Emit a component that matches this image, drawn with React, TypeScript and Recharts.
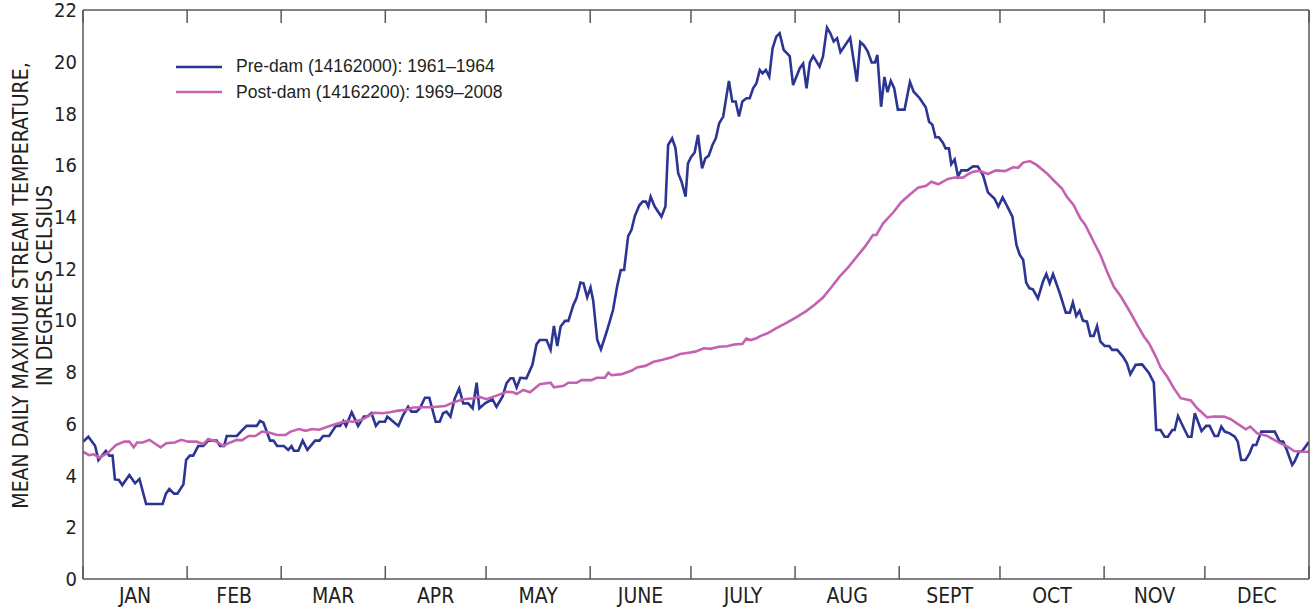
import { LineChart, Line, XAxis, YAxis, Legend, Label } from "recharts"

// day of year (0-365) vs mean daily max stream temperature (deg C)
const preDam: [number, number][] = [
  [0, 5.3], [1.6, 5.5], [3.6, 5.15], [4.6, 4.6], [6.8, 4.95], [7.8, 4.77], [8.8, 4.77], [9.5, 3.85],
  [10.7, 3.83], [11.7, 3.63], [13.8, 4.02], [15.5, 3.7], [16.8, 3.87], [18.8, 2.9], [23.7, 2.9], [24.7, 3.3],
  [25.7, 3.48], [27.1, 3.3], [28.1, 3.3], [29.9, 3.66], [30.7, 4.6], [31.8, 4.77], [32.8, 4.77], [34.3, 5.14],
  [35.8, 5.14], [37.3, 5.35], [39.8, 5.35], [40.8, 5.14], [42, 5.14], [42.8, 5.53], [45.8, 5.53], [47.2, 5.73],
  [48.7, 5.92], [51.7, 5.92], [52.7, 6.11], [53.7, 6.05], [55.7, 5.35], [56.7, 5.35], [57.8, 5.14], [59.8, 5.14],
  [61.1, 4.99], [62.1, 5.14], [62.8, 4.96], [64.1, 4.96], [65.4, 5.35], [66.8, 4.99], [69.1, 5.35], [70.4, 5.35],
  [71.5, 5.53], [73.3, 5.53], [75.3, 5.92], [76.5, 5.92], [77.5, 6.11], [78.3, 5.92], [80, 6.45], [81.9, 5.92],
  [83.6, 6.28], [84.6, 6.28], [85.9, 6.41], [87.2, 5.92], [88.2, 6.08], [89.9, 6.08], [90.6, 6.28], [92.4, 6.08],
  [93.9, 5.92], [95.3, 6.34], [96.8, 6.66], [97.8, 6.47], [99.3, 6.47], [100.3, 6.6], [101.8, 7.01], [103.1, 7.01],
  [105, 6.08], [106.2, 6.08], [107.2, 6.41], [108.2, 6.47], [109.4, 6.28], [110.7, 6.99], [112, 7.37], [113.2, 6.79],
  [114.7, 6.79], [116, 6.6], [117.2, 7.59], [118, 6.6], [119.8, 6.8], [121.9, 6.95], [123.1, 6.66], [124.9, 7.05],
  [126.1, 7.57], [127.3, 7.76], [128.1, 7.76], [129.1, 7.4], [130.2, 7.78], [132, 7.76], [133.8, 8.28], [135, 9.07],
  [136, 9.24], [138, 9.24], [139.2, 8.86], [140.2, 9.78], [141.2, 9.01], [142.2, 9.76], [143.5, 9.98], [144.5, 9.98],
  [146, 10.6], [146.9, 10.85], [148.1, 11.46], [149, 11.43], [150.1, 10.89], [151.1, 11.27], [151.9, 10.76], [153.1, 9.24],
  [154.2, 8.88], [155.9, 9.56], [157.8, 10.4], [159, 11.3], [160.1, 11.95], [161.1, 11.95], [162.3, 13.26], [163.3, 13.5],
  [164.3, 14.04], [165.6, 14.44], [166.6, 14.59], [167.6, 14.59], [168.3, 14.4], [169, 14.78], [170.2, 14.4], [172.2, 14.01],
  [173.4, 14.4], [174.2, 16.78], [175.4, 17.04], [176.4, 16.65], [177.2, 15.69], [178.2, 15.36], [179.4, 14.78], [180.1, 16.07],
  [181.1, 16.33], [182.1, 16.49], [183.1, 17.17], [184.3, 15.88], [185.3, 16.27], [186.3, 16.37], [187.4, 16.78], [188.4, 17.04],
  [189.4, 17.62], [190.6, 17.88], [192.3, 19.26], [193.3, 18.46], [194.3, 18.46], [195.3, 17.88], [196.3, 18.46], [197.5, 18.59],
  [198.5, 18.59], [199.5, 18.97], [200.5, 19.17], [201.5, 19.68], [202.3, 19.55], [203.3, 19.68], [204.3, 19.42], [205.3, 20.52],
  [206.4, 20.97], [207.4, 21.1], [208.6, 20.46], [210.4, 20.22], [211.4, 19.1], [213.4, 19.75], [214.4, 19.93], [215.4, 18.97],
  [216.4, 19.97], [217.4, 20.22], [219.3, 19.81], [220.3, 20.2], [221.5, 21.32], [222.5, 21.1], [223.5, 20.78], [224.5, 20.91],
  [225.5, 20.37], [228.4, 20.93], [230.4, 19.23], [231.4, 20.76], [232.5, 20.63], [233.6, 20.4], [234.8, 19.97], [235.8, 19.97],
  [236.5, 20.26], [237.6, 18.26], [238.6, 19.41], [239.5, 18.82], [240.5, 19.26], [241.5, 18.98], [242.6, 18.15], [244.6, 18.15],
  [246.2, 19.22], [247.3, 18.84], [249.1, 18.59], [250.9, 18.24], [251.9, 17.68], [252.9, 17.56], [253.8, 17.08], [254.8, 17.08],
  [256, 16.87], [256.8, 16.65], [257.8, 16.65], [258.5, 16.04], [259.5, 16.22], [260.5, 15.57], [261.5, 15.8], [263.3, 15.8],
  [265, 15.96], [266.4, 15.95], [268, 15.6], [269.4, 14.95], [271.4, 14.7], [272.5, 14.4], [273.8, 14.75], [275.2, 14.4],
  [276.7, 14.01], [277.9, 12.92], [278.9, 12.53], [279.9, 12.34], [280.8, 11.46], [281.8, 11.24], [282.8, 11.2], [284.3, 10.85],
  [285.8, 11.5], [286.8, 11.79], [287.8, 11.43], [288.8, 11.79], [290.8, 11.05], [292.6, 10.3], [293.8, 10.3], [294.7, 10.69],
  [295.7, 10.17], [296.7, 10.37], [297.7, 9.99], [298.9, 9.95], [299.9, 9.4], [300.9, 9.4], [301.9, 9.78], [302.9, 9.18],
  [304.2, 9.01], [305.5, 9.01], [306.4, 8.86], [307.9, 8.86], [309.6, 8.6], [310.8, 8.34], [311.8, 7.92], [313.4, 8.28],
  [315.3, 8.3], [317.3, 7.98], [318.8, 7.59], [319.5, 5.76], [320.8, 5.76], [322, 5.5], [323, 5.5], [324.3, 5.76],
  [325, 5.76], [326, 6.3], [328, 5.76], [329, 5.5], [330, 5.5], [331, 6.41], [333, 5.72], [334.4, 5.92],
  [335.4, 5.92], [336.9, 5.53], [337.9, 5.53], [338.9, 5.89], [339.9, 5.7], [341.4, 5.63], [342.9, 5.5], [343.8, 5.31],
  [344.8, 4.6], [346.1, 4.6], [347.3, 4.86], [348.3, 5.18], [349.3, 5.18], [350.8, 5.7], [354.8, 5.7], [356.3, 5.31],
  [357.3, 5.31], [358.4, 4.99], [360, 4.41], [360.7, 4.54], [362, 4.92], [363, 4.95], [365, 5.31],
]

const postDam: [number, number][] = [
  [0, 4.92], [1.8, 4.79], [3.3, 4.82], [4.8, 4.69], [7.3, 4.86], [9.8, 5.18], [12.3, 5.31], [13.8, 5.31],
  [15.1, 5.09], [16.1, 5.28], [17.8, 5.28], [19.8, 5.38], [21.3, 5.25], [23.1, 5.09], [24.8, 5.25], [27.3, 5.28],
  [29.3, 5.38], [31.3, 5.31], [33.8, 5.31], [35.8, 5.22], [37.3, 5.41], [39.8, 5.31], [41.8, 5.14], [43.3, 5.25],
  [45.8, 5.38], [47.3, 5.36], [49.3, 5.53], [51.3, 5.53], [53.3, 5.7], [55.3, 5.66], [57.8, 5.57], [60.3, 5.57],
  [61.8, 5.7], [64.3, 5.8], [66.3, 5.73], [68.3, 5.8], [70.3, 5.77], [72.8, 5.89], [75.3, 5.99], [78.3, 6.11],
  [80.3, 6.08], [82.8, 6.15], [84.3, 6.25], [86.8, 6.43], [89.3, 6.41], [91.3, 6.45], [93.8, 6.51], [96.3, 6.54],
  [98.3, 6.63], [101.3, 6.64], [103.3, 6.64], [105.3, 6.66], [107.8, 6.69], [110.3, 6.83], [113.3, 6.95], [116.3, 6.99],
  [117.8, 7.05], [120.1, 6.95], [123.1, 7.09], [126.1, 7.24], [128.1, 7.22], [129.1, 7.15], [131.1, 7.31], [133.1, 7.22],
  [136, 7.53], [139.2, 7.59], [140.2, 7.41], [143.1, 7.47], [144.5, 7.59], [147, 7.59], [148.4, 7.69], [151.4, 7.69],
  [152.9, 7.78], [155.4, 7.78], [156.4, 7.98], [157.4, 7.88], [160.4, 7.92], [163.4, 8.06], [164.9, 8.18], [167.4, 8.24],
  [169.9, 8.4], [172.3, 8.47], [175.3, 8.57], [177.8, 8.7], [180.3, 8.75], [182.3, 8.79], [184.8, 8.92], [186.8, 8.9],
  [189.3, 8.98], [191.8, 9.0], [193.8, 9.07], [196.3, 9.09], [197.5, 9.3], [198.8, 9.24], [200.3, 9.3], [201.8, 9.4],
  [203.8, 9.5], [206.3, 9.69], [209.3, 9.89], [212.3, 10.12], [215.3, 10.36], [217.8, 10.6], [220.3, 10.88], [222.8, 11.28],
  [225.3, 11.7], [227.8, 12.05], [230.3, 12.45], [232.8, 12.85], [235.2, 13.3], [236.2, 13.3], [238.2, 13.75], [241.2, 14.17],
  [243.6, 14.57], [246.1, 14.86], [248.6, 15.13], [251, 15.2], [252.6, 15.36], [254.6, 15.26], [257.5, 15.47], [259.5, 15.52],
  [262, 15.52], [263.5, 15.65], [265, 15.75], [266.9, 15.78], [269.4, 15.66], [271.8, 15.8], [274.5, 15.77], [276.9, 15.92],
  [278.4, 15.9], [279.9, 16.1], [281.9, 16.16], [283.9, 16.01], [286.9, 15.69], [289.4, 15.36], [291.4, 15.11], [292.9, 14.78],
  [294.9, 14.46], [296.9, 13.95], [298.4, 13.69], [300.9, 13.04], [302.9, 12.53], [304.9, 11.88], [306.9, 11.3], [308.9, 10.94],
  [311.4, 10.4], [313.9, 9.82], [315.9, 9.37], [317.4, 9.11], [319.4, 8.6], [320.8, 8.18], [322.8, 7.82], [324.8, 7.37],
  [326.8, 6.99], [329.8, 6.9], [331.7, 6.6], [334.7, 6.25], [336.7, 6.28], [339.7, 6.28], [341.7, 6.18], [344.2, 5.96],
  [346.2, 5.79], [347.5, 5.89], [349.6, 5.63], [352.6, 5.53], [356.1, 5.27], [358.6, 5.12], [360.6, 4.95], [363.1, 4.92],
  [365, 4.92],
]

const monthNames = ["JAN", "FEB", "MAR", "APR", "MAY", "JUNE", "JULY", "AUG", "SEPT", "OCT", "NOV", "DEC"]
const monthLengths = [31, 28, 31, 30, 31, 30, 31, 31, 30, 31, 30, 31]
const tempTicks = [0, 2, 4, 6, 8, 10, 12, 14, 16, 18, 20, 22]

const series = [
  { key: "pre", name: "Pre-dam (14162000): 1961–1964", color: "#2c3592", points: preDam },
  { key: "post", name: "Post-dam (14162200): 1969–2008", color: "#c462b1", points: postDam },
]

const monthStarts = monthLengths.reduce<number[]>((acc, len) => [...acc, acc[acc.length - 1] + len], [0])
const monthMids = monthLengths.map((len, i) => monthStarts[i] + len / 2)

const narrow = "'Liberation Sans Narrow', 'DejaVu Sans Condensed', 'Liberation Sans', sans-serif"
const regular = "'Liberation Sans', Arial, sans-serif"
const ink = "#231f20"
const frame = "#58595b"

function AxisTitle(props: any) {
  const vb = props.viewBox || { x: 0, y: 0, width: 0, height: 0 }
  const cy = vb.y + vb.height / 2 - 9
  const style = { fontFamily: narrow, fontSize: 21, fill: ink }
  return (
    <g>
      <text transform={`translate(${vb.x + 28},${cy}) rotate(-90)`} textAnchor="middle" style={style}>
        MEAN DAILY MAXIMUM STREAM TEMPERATURE,
      </text>
      <text transform={`translate(${vb.x + 52},${cy}) rotate(-90)`} textAnchor="middle" style={style}>
        IN DEGREES CELSIUS
      </text>
    </g>
  )
}

function LegendBox() {
  return (
    <div style={{ fontFamily: regular, fontSize: 17.5, color: ink }}>
      {series.map((s) => (
        <div key={s.key} style={{ display: "flex", alignItems: "center", height: 25.6 }}>
          <svg width={46} height={6} style={{ marginRight: 14 }}>
            <line x1={0} x2={46} y1={3} y2={3} stroke={s.color} strokeWidth={2.6} />
          </svg>
          <span>{s.name}</span>
        </div>
      ))}
    </div>
  )
}

// frame axes: mirrored so the tick marks point into the plot, no labels
const NoLabel = () => <g />
const frameProps = {
  mirror: true,
  tick: NoLabel,
  tickLine: { stroke: frame, strokeWidth: 1.5 },
  tickSize: 13,
  interval: 0 as const,
  stroke: frame,
  strokeWidth: 1.5,
}

export default function App() {
  return (
    <div>
      <style>{"body{margin:0}"}</style>
      <LineChart width={1315} height={611} margin={{ top: 10, right: 6, bottom: 0, left: 0 }}>
        <XAxis
          xAxisId="days"
          dataKey="day"
          type="number"
          domain={[0, 365]}
          allowDataOverflow
          ticks={monthStarts}
          height={1}
          {...frameProps}
        />
        <XAxis
          xAxisId="months"
          dataKey="day"
          type="number"
          domain={[0, 365]}
          allowDataOverflow
          ticks={monthMids}
          tickFormatter={(v: number) => monthNames[monthMids.indexOf(v)]}
          height={32}
          axisLine={false}
          tickLine={false}
          tickSize={0}
          tickMargin={9}
          tick={{ fill: ink, fontSize: 21, fontFamily: narrow }}
          interval={0}
        />
        <XAxis
          xAxisId="top"
          dataKey="day"
          orientation="top"
          type="number"
          domain={[0, 365]}
          allowDataOverflow
          ticks={monthStarts}
          height={1}
          {...frameProps}
        />
        <YAxis
          yAxisId="vals"
          type="number"
          domain={[0, 22]}
          ticks={tempTicks}
          width={83}
          axisLine={false}
          tickLine={false}
          tickSize={0}
          tickMargin={6}
          interval={0}
          tick={{ fill: ink, fontSize: 20, fontFamily: narrow }}
        >
          <Label content={AxisTitle} />
        </YAxis>
        <YAxis yAxisId="frameL" type="number" domain={[0, 22]} ticks={tempTicks} width={1} {...frameProps} />
        <YAxis
          yAxisId="frameR"
          orientation="right"
          type="number"
          domain={[0, 22]}
          ticks={tempTicks}
          width={1}
          {...frameProps}
        />
        <Legend
          layout="vertical"
          align="center"
          verticalAlign="middle"
          content={LegendBox}
          wrapperStyle={{ left: 176, top: 54, width: 400, height: "auto" }}
        />
        {series.map((s) => (
          <Line
            key={s.key}
            xAxisId="days"
            yAxisId="vals"
            data={s.points.map(([day, temp]) => ({ day, temp }))}
            dataKey="temp"
            name={s.name}
            type="linear"
            stroke={s.color}
            strokeWidth={2.6}
            dot={false}
            activeDot={false}
            isAnimationActive={false}
          />
        ))}
      </LineChart>
    </div>
  )
}
